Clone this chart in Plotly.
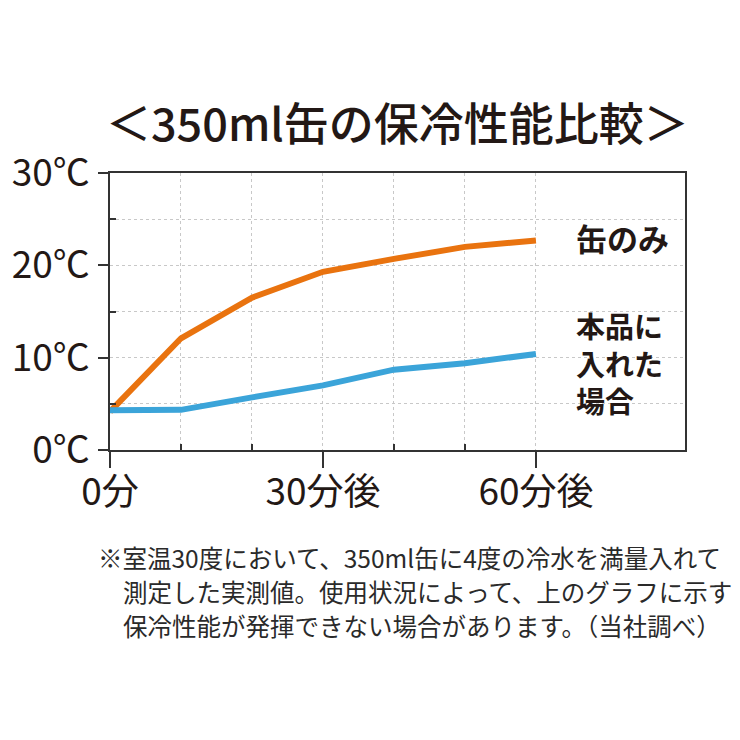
import plotly.graph_objects as go

minutes = [0, 10, 20, 30, 40, 50, 60]
can_only = [4.15, 12.1, 16.5, 19.3, 20.7, 22.0, 22.7]
with_product = [4.3, 4.35, 5.7, 7.0, 8.7, 9.4, 10.4]

y_tickvals = [0, 10, 20, 30]
y_ticktext = ["0℃", "10℃", "20℃", "30℃"]
x_tickvals = [0, 30, 60]
x_ticktext = ["0分", "30分後", "60分後"]

title_text = "＜350ml缶の保冷性能比較＞"
label_can = "缶のみ"
label_product = ["本品に", "入れた", "場合"]
notes = [
    "※室温30度において、350ml缶に4度の冷水を満量入れて",
    "測定した実測値。使用状況によって、上のグラフに示す",
    "保冷性能が発揮できない場合があります。（当社調べ）",
]

FONT = "Noto Sans CJK JP"
ORANGE = "#E9730F"
BLUE = "#3BA4D9"
INK = "#231815"

fig = go.Figure()
fig.add_trace(go.Scatter(x=minutes, y=can_only, mode="lines",
                         line=dict(color=ORANGE, width=6), showlegend=False))
fig.add_trace(go.Scatter(x=minutes, y=with_product, mode="lines",
                         line=dict(color=BLUE, width=6), showlegend=False))

fig.update_layout(
    width=740, height=740,
    margin=dict(l=110, r=55, t=173, b=290, pad=0),
    paper_bgcolor="white", plot_bgcolor="white",
    font=dict(family=FONT, color=INK),
    title=dict(text=title_text, x=0.537, xanchor="center", y=1 - 125 / 740,
               yanchor="middle", font=dict(family=FONT, size=45, color=INK, weight=500)),
)

fig.update_xaxes(
    range=[0, 81], showline=True, linecolor="#333", linewidth=1.5, mirror=True,
    tickmode="array", tickvals=x_tickvals, ticktext=x_ticktext,
    ticks="outside", ticklen=16, tickcolor="#333", tickwidth=1.5,
    tickfont=dict(family=FONT, size=37, color=INK),
    showgrid=True, gridcolor="#c8c8c8", griddash="dot", gridwidth=1,
    minor=dict(tickmode="array", tickvals=[10, 20, 40, 50], ticks="inside",
               ticklen=6, tickcolor="#333", showgrid=True, gridcolor="#c8c8c8",
               griddash="dot", gridwidth=1),
    zeroline=False, fixedrange=True, ticklabelstandoff=-7,
)
fig.update_yaxes(
    range=[0, 30], showline=True, linecolor="#333", linewidth=1.5, mirror=True,
    tickmode="array", tickvals=y_tickvals, ticktext=y_ticktext,
    ticks="outside", ticklen=10, tickcolor="#333", tickwidth=1.5,
    tickfont=dict(family=FONT, size=37, color=INK),
    showgrid=True, gridcolor="#c8c8c8", griddash="dot", gridwidth=1,
    minor=dict(tickmode="array", tickvals=[5, 15, 25], ticks="inside",
               ticklen=6, tickcolor="#333", showgrid=True, gridcolor="#c8c8c8",
               griddash="dot", gridwidth=1),
    zeroline=False, fixedrange=True, ticklabelstandoff=1,
)

# series labels
fig.add_annotation(x=(574 - 110) / 575, y=(450 - 237) / 277, xref="paper", yref="paper",
                   text="<b>" + label_can + "</b>", showarrow=False,
                   xanchor="left", yanchor="middle",
                   font=dict(family=FONT, size=31, color=INK))
fig.add_annotation(x=(574 - 110) / 575, y=(450 - 362) / 277, xref="paper", yref="paper",
                   text="<b>" + "<br>".join(label_product) + "</b>", showarrow=False,
                   xanchor="left", yanchor="middle", align="left",
                   font=dict(family=FONT, size=29, color=INK))

# footnotes
for txt, px, py in zip(notes, [96, 121, 121], [557, 591, 625]):
    fig.add_annotation(x=(px - 110) / 575, y=(450 - py) / 277, xref="paper", yref="paper",
                       text=txt, showarrow=False, xanchor="left", yanchor="middle",
                       font=dict(family=FONT, size=24.5, color="#2a2a2a"))

fig.write_html("out.html")
